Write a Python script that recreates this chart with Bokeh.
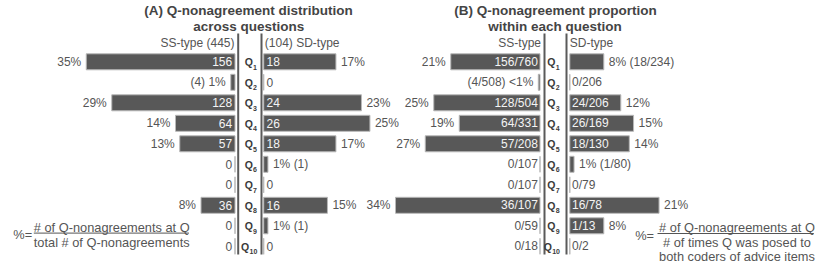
from bokeh.plotting import figure
from bokeh.models import ColumnDataSource, Range1d
from bokeh.core.properties import value
from bokeh.embed import file_html
from bokeh.resources import INLINE

# ---------------- data ----------------
questions = ["1", "2", "3", "4", "5", "6", "7", "8", "9", "10"]

a_ss_total = 445
a_sd_total = 104
a_ss_count = [156, 4, 128, 64, 57, 0, 0, 36, 0, 0]
a_ss_pct = [35, 1, 29, 14, 13, 0, 0, 8, 0, 0]
a_sd_count = [18, 0, 24, 26, 18, 1, 0, 16, 1, 0]
a_sd_pct = [17, 0, 23, 25, 17, 1, 0, 15, 1, 0]

b_ss_count = [156, 4, 128, 64, 57, 0, 0, 36, 0, 0]
b_ss_posed = [760, 508, 504, 331, 208, 107, 107, 107, 59, 18]
b_ss_pct = [21, 0.4, 25, 19, 27, 0, 0, 34, 0, 0]
b_sd_count = [18, 0, 24, 26, 18, 1, 0, 16, 1, 0]
b_sd_posed = [234, 206, 206, 169, 130, 80, 79, 78, 13, 2]
b_sd_pct = [8, 0, 12, 15, 14, 1, 0, 21, 8, 0]

# ---------------- layout constants (pixels) ----------------
PX = 4.25      # pixels per percent
ROW = 20.5     # pixels per row
Y0 = 61.3      # screen y of first row
W, H = 830, 265
FONT = value("Liberation Sans")
TXT = "#555555"
BAR = "#585858"
BAR_EDGE = "#b8b8b8"


def ux(px):
    return px / PX


def uy(py):
    return (py - Y0) / ROW


p = figure(width=W, height=H, output_backend="svg", toolbar_location=None,
           x_range=Range1d(ux(0), ux(W)), y_range=Range1d(uy(H), uy(0)),
           x_axis_location=None, y_axis_location=None, min_border=0,
           outline_line_color=None, background_fill_color="white",
           border_fill_color="white")
p.xgrid.visible = False
p.ygrid.visible = False

rows = list(range(len(questions)))


def text_w(s):
    w = 0.0
    for ch in s:
        w += 3.33 if ch in "/ ()" else 6.67
    return w


def pct_label(v):
    return "<1%" if 0 < v < 1 else "%d%%" % round(v)


def panel(ss_count, ss_pct, ss_in_txt, sd_count, sd_pct, sd_in_txt,
          ss_end, lineL, lineR, sd_start, qx, in_off):
    # bars
    ss_src = ColumnDataSource(dict(
        y=rows, right=[ux(ss_end)] * len(rows),
        left=[ux(ss_end) - v for v in ss_pct]))
    sd_src = ColumnDataSource(dict(
        y=rows, left=[ux(sd_start)] * len(rows),
        right=[ux(sd_start) + v for v in sd_pct]))
    for src in (ss_src, sd_src):
        p.hbar(y="y", left="left", right="right", height=16 / ROW, source=src,
               fill_color=BAR, line_color=BAR_EDGE, line_width=1)

    # labels
    ins = dict(x=[], y=[], t=[], c=[])
    outs = dict(x=[], y=[], t=[])
    ins2 = dict(x=[], y=[], t=[], c=[])
    outs2 = dict(x=[], y=[], t=[])
    for i in rows:
        # SS side (left)
        t = ss_in_txt[i]
        v = ss_pct[i]
        if ss_count[i] == 0:
            ins["x"].append(ux(ss_end)); ins["y"].append(i); ins["t"].append(t); ins["c"].append(TXT)
        elif text_w(t) + 5 <= v * PX:
            ins["x"].append(ux(ss_end)); ins["y"].append(i); ins["t"].append(t); ins["c"].append("#f4f4f4")
            outs["x"].append(ux(ss_end) - v); outs["y"].append(i); outs["t"].append(pct_label(v))
        else:
            outs["x"].append(ux(ss_end) - v); outs["y"].append(i)
            outs["t"].append("(%s) %s" % (t, pct_label(v)))
        # SD side (right)
        t = sd_in_txt[i]
        v = sd_pct[i]
        if sd_count[i] == 0:
            ins2["x"].append(ux(sd_start)); ins2["y"].append(i); ins2["t"].append(t); ins2["c"].append(TXT)
        elif text_w(t) + 5 <= v * PX:
            ins2["x"].append(ux(sd_start)); ins2["y"].append(i); ins2["t"].append(t); ins2["c"].append("#f4f4f4")
            outs2["x"].append(ux(sd_start) + v); outs2["y"].append(i); outs2["t"].append(pct_label(v))
        else:
            outs2["x"].append(ux(sd_start) + v); outs2["y"].append(i)
            outs2["t"].append("%s (%s)" % (pct_label(v), t))

    common = dict(text_font=FONT, text_font_size=value("12px"), text_baseline="middle")
    p.text(x="x", y="y", text="t", text_color="c", text_align="right", x_offset=-in_off,
           source=ColumnDataSource(ins), **common)
    p.text(x="x", y="y", text="t", text_color=TXT, text_align="right", x_offset=-5,
           source=ColumnDataSource(outs), **common)
    p.text(x="x", y="y", text="t", text_color="c", text_align="left", x_offset=in_off,
           source=ColumnDataSource(ins2), **common)
    p.text(x="x", y="y", text="t", text_color=TXT, text_align="left", x_offset=5,
           source=ColumnDataSource(outs2), **common)

    # center axis lines
    for lx in (lineL, lineR):
        p.segment(x0=[ux(lx)], x1=[ux(lx)], y0=[uy(33)], y1=[uy(254)],
                  line_color="#5a5a5a", line_width=2)

    # Q labels with subscripts
    qxs = [ux(qx - (3.6 if len(q) > 1 else 0)) for q in questions]
    p.text(x=qxs, y=[r + 0.6 / ROW for r in rows], text=["Q"] * len(rows),
           text_font=FONT, text_font_size=value("10.5px"), text_font_style="bold",
           text_color="#3a3a3a", text_align="right", text_baseline="middle")
    p.text(x=qxs, y=[r + 5.5 / ROW for r in rows], text=questions,
           text_font=FONT, text_font_size=value("7px"), text_font_style="bold",
           text_color="#3a3a3a", text_align="left", text_baseline="middle", x_offset=0.3)


a_ss_in = [str(c) for c in a_ss_count]
a_sd_in = [str(c) for c in a_sd_count]
b_ss_in = ["%d/%d" % (c, n) for c, n in zip(b_ss_count, b_ss_posed)]
b_sd_in = ["%d/%d" % (c, n) for c, n in zip(b_sd_count, b_sd_posed)]

panel(a_ss_count, a_ss_pct, a_ss_in, a_sd_count, a_sd_pct, a_sd_in,
      ss_end=234.5, lineL=237.7, lineR=261.0, sd_start=263.2, qx=252.3, in_off=2.8)
panel(b_ss_count, b_ss_pct, b_ss_in, b_sd_count, b_sd_pct, b_sd_in,
      ss_end=539.5, lineL=544.0, lineR=566.0, sd_start=569.3, qx=555.0, in_off=2.2)

# headers
hdr = dict(text_font=FONT, text_font_size=value("12px"), text_color=TXT, text_baseline="middle")
p.text(x=[ux(234.0), ux(540.5)], y=[uy(42.7)] * 2,
       text=["SS-type (%d)" % a_ss_total, "SS-type"], text_align="right", **hdr)
p.text(x=[ux(264.3), ux(569.3)], y=[uy(42.7)] * 2,
       text=["(%d) SD-type" % a_sd_total, "SD-type"], text_align="left", **hdr)

# titles
ttl = dict(text_font=FONT, text_font_size=value("13.5px"), text_font_style="bold",
           text_color="#444444", text_align="center", text_baseline="middle")
p.text(x=[ux(248.0), ux(248.3)], y=[uy(9.5), uy(25.5)],
       text=["(A) Q-nonagreement distribution", "across questions"], **ttl)
p.text(x=[ux(555.0), ux(554.5)], y=[uy(9.5), uy(25.5)],
       text=["(B) Q-nonagreement proportion", "within each question"], **ttl)

# formulas
fm = dict(text_font=FONT, text_font_size=value("12.8px"), text_color=TXT, text_baseline="middle")
p.text(x=[ux(31.7)], y=[uy(234)], text=["%="], text_align="right", **fm)
p.text(x=[ux(33.3), ux(33.3)], y=[uy(226.5), uy(241.5)],
       text=["# of Q-nonagreements at Q", "total # of Q-nonagreements"], text_align="left", **fm)
p.segment(x0=[ux(33.3)], x1=[ux(188.5)], y0=[uy(232.6)], y1=[uy(232.6)],
          line_color=TXT, line_width=1)

p.text(x=[ux(653.5)], y=[uy(235)], text=["%="], text_align="right", **fm)
p.text(x=[ux(736.5)] * 3, y=[uy(226.5), uy(241.5)] + [uy(255.5)],
       text=["# of Q-nonagreements at Q", "# of times Q was posed to",
             "both coders of advice items"], text_align="center", **fm)
p.segment(x0=[ux(657)], x1=[ux(813.3)], y0=[uy(233)], y1=[uy(233)],
          line_color=TXT, line_width=1)

open("out.html", "w").write(file_html(p, INLINE))
